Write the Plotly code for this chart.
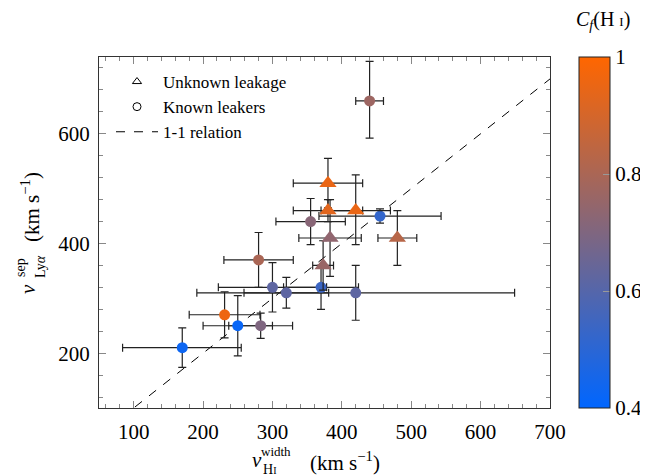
import plotly.graph_objects as go

# ---------------- data ----------------
# Known leakers (circles)
known_x = [440, 355, 455, 300, 370, 320, 420, 280, 231, 250, 283, 170]
known_y = [660, 440, 450, 320, 320, 310, 310, 370, 270, 250, 250, 210]
known_xerr_plus = [20, 50, 88, 78, 54, 61, 229, 50, 51, 50, 46, 85]
known_xerr_minus = [20, 50, 88, 78, 54, 61, 229, 50, 51, 50, 46, 86]
known_yerr_plus = [72, 42, 13, 45, 40, 28, 50, 50, 42, 55, 23, 36]
known_yerr_minus = [68, 42, 13, 45, 40, 28, 50, 50, 42, 55, 23, 36]
known_cf = [0.77, 0.72, 0.52, 0.62, 0.54, 0.62, 0.62, 0.80, 0.96, 0.42, 0.70, 0.43]

# Unknown leakage (triangles)
unk_x = [380, 380, 420, 383, 480, 373]
unk_y = [510, 460, 460, 410, 410, 360]
unk_xerr = [50, 50, 50, 45, 28, 15]
unk_yerr_plus = [45, 20, 65, 70, 50, 45]
unk_yerr_minus = [45, 20, 62, 70, 50, 45]
unk_cf = [0.95, 0.93, 0.95, 0.74, 0.83, 0.76]

one_to_one = [0, 800]

x_ticks = [100, 200, 300, 400, 500, 600, 700]
y_ticks = [200, 400, 600]
cbar_ticks = [0.4, 0.6, 0.8, 1.0]
cbar_ticktext = ["0.4", "0.6", "0.8", "1"]

FONT = "Liberation Serif"
OFF = 8  # page body margin offset
W, H = 648 - OFF, 475 - OFF
ML, MT = 99 - OFF, 57 - OFF
PW, PH = 451, 351
MR, MB = W - ML - PW, H - MT - PH


def px(x):
    # page x pixel -> paper fraction
    return (x - OFF - ML) / PW


def py(y):
    # page y pixel -> paper fraction
    return (MT + PH - (y - OFF)) / PH


colorscale = [[0, "rgb(0,102,255)"], [1, "rgb(255,102,0)"]]
ebar = dict(color="#222", thickness=1.2, width=4)

fig = go.Figure()

# 1-1 line
fig.add_trace(go.Scatter(
    x=one_to_one, y=one_to_one, mode="lines",
    line=dict(color="black", width=1, dash="dash"),
    showlegend=False, hoverinfo="skip"))

fig.add_trace(go.Scatter(
    x=known_x, y=known_y, mode="markers",
    marker=dict(symbol="circle", size=11, color=known_cf, coloraxis="coloraxis",
                line=dict(width=0)),
    error_x=dict(type="data", symmetric=False, array=known_xerr_plus,
                 arrayminus=known_xerr_minus, **ebar),
    error_y=dict(type="data", symmetric=False, array=known_yerr_plus,
                 arrayminus=known_yerr_minus, **ebar),
    showlegend=False))

fig.add_trace(go.Scatter(
    x=unk_x, y=unk_y, mode="markers",
    marker=dict(symbol="triangle-up", size=15, color=unk_cf, coloraxis="coloraxis",
                line=dict(width=0)),
    error_x=dict(type="data", array=unk_xerr, **ebar),
    error_y=dict(type="data", symmetric=False, array=unk_yerr_plus,
                 arrayminus=unk_yerr_minus, **ebar),
    showlegend=False))

# legend entries
fig.add_trace(go.Scatter(
    x=[None], y=[None], mode="markers", name="Unknown leakage",
    marker=dict(symbol="triangle-up-open", size=8, color="black", line=dict(width=1))))
fig.add_trace(go.Scatter(
    x=[None], y=[None], mode="markers", name="Known leakers",
    marker=dict(symbol="circle-open", size=8, color="black", line=dict(width=1))))
fig.add_trace(go.Scatter(
    x=[None], y=[None], mode="lines", name="1-1 relation",
    line=dict(color="black", width=1, dash="dash")))

axis_common = dict(
    showgrid=False, zeroline=False, showline=True, linecolor="#333", linewidth=1,
    mirror="allticks", ticks="inside", ticklen=7, tickcolor="#888", tickwidth=1,
    tickfont=dict(family=FONT, size=21, color="black"),
)

fig.update_layout(
    width=W, height=H,
    margin=dict(l=ML, r=MR, t=MT, b=MB, autoexpand=False),
    paper_bgcolor="white", plot_bgcolor="white",
    font=dict(family=FONT, color="black"),
    xaxis=dict(range=[50, 700], tickvals=x_ticks, ticklabelstandoff=5,
               minor=dict(dtick=20, tick0=0, ticks="inside", ticklen=4, tickcolor="#888"),
               **axis_common),
    yaxis=dict(range=[100, 740], tickvals=y_ticks, ticklabelstandoff=4,
               minor=dict(dtick=40, tick0=0, ticks="inside", ticklen=4, tickcolor="#888"),
               **axis_common),
    coloraxis=dict(
        cmin=0.4, cmax=1.0, colorscale=colorscale,
        colorbar=dict(
            x=px(579), xanchor="left", y=0.5, yanchor="middle",
            len=1.0, lenmode="fraction", thickness=31,
            outlinecolor="#222", outlinewidth=1,
            tickvals=cbar_ticks, ticktext=cbar_ticktext,
            ticks="inside", ticklen=7, tickcolor="#999",
            tickfont=dict(family=FONT, size=21, color="black"),
            ypad=0, xpad=0,
        )),
    legend=dict(x=px(111), y=py(64), xanchor="left", yanchor="top",
                bgcolor="rgba(0,0,0,0)", font=dict(family=FONT, size=17, color="black"),
                tracegroupgap=0, itemwidth=42),
)

ann = []


def add(text, x, y, size, angle=0):
    ann.append(dict(text=text, x=px(x), y=py(y), xref="paper", yref="paper",
                    xanchor="center", yanchor="middle", showarrow=False,
                    textangle=angle, font=dict(family=FONT, size=size, color="black")))


SMALLI = "<span style='font-size:13px'>I</span>"
# x-axis title
add("<i>v</i>", 257, 460, 21)
add("width", 276, 451, 13)
add("H" + "<span style='font-size:10px'>I</span>", 269, 469, 14)
add("(km s<sup>−1</sup>)", 345, 461, 21)
# y-axis title (rotated)
add("<i>v</i>", 28, 289, 21, -90)
add("sep", 20, 268, 14, -90)
add("Ly<i>α</i>", 40, 267, 14, -90)
add("(km s<sup>−1</sup>)", 30, 207, 21, -90)
# colorbar title
add("<i>C</i><sub><i>f</i></sub>(H " + SMALLI + ")", 603, 21, 20)

fig.update_layout(annotations=ann)

fig.write_html("out.html")
